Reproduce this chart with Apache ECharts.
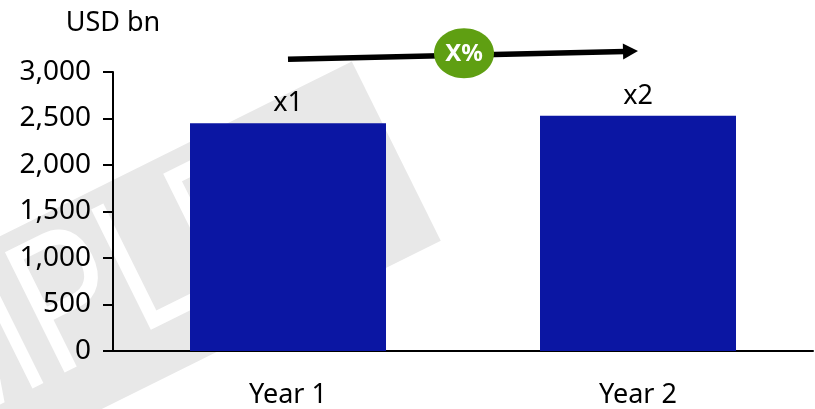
<!DOCTYPE html>
<html>
<head>
<meta charset="utf-8">
<script src="https://cdn.jsdelivr.net/npm/echarts@6/dist/echarts.min.js"></script>
<style>
  html, body { margin: 0; padding: 0; background: #fff; }
  #chart { width: 815px; height: 409px; }
</style>
</head>
<body>
<div id="chart"></div>
<script>
// Chart content
const categories = ['Year 1', 'Year 2'];
const values = [2450, 2530];
const barLabels = ['x1', 'x2'];
const unitLabel = 'USD bn';
const growthLabel = 'X%';
const watermarkText = 'SAMPLE';

// Value axis range
const Y_MIN = 0;
const Y_MAX = 3000;
const Y_STEP = 500;

// Growth arrow levels (value-axis units, above the plot area)
const ARROW_START_LEVEL = 3136;
const ARROW_END_LEVEL = 3225;

const FONT = '"Noto Sans", "Open Sans", sans-serif';
const BAR_COLOR = '#0b16a3';
const BADGE_COLOR = '#5f9f12';

const chart = echarts.init(document.getElementById('chart'), null, { renderer: 'canvas' });

chart.setOption({
  animation: false,
  backgroundColor: '#ffffff',
  grid: { left: 113, right: 2, top: 72, bottom: 57, containLabel: false },
  xAxis: {
    type: 'category',
    data: categories,
    axisLine: { show: true, lineStyle: { color: '#000', width: 2 } },
    axisTick: { show: false },
    axisLabel: { color: '#000', fontFamily: FONT, fontSize: 27, margin: 31 },
    splitLine: { show: false }
  },
  yAxis: {
    type: 'value',
    min: Y_MIN,
    max: Y_MAX,
    interval: Y_STEP,
    name: unitLabel,
    nameLocation: 'end',
    nameGap: 35,
    nameTextStyle: { color: '#000', fontFamily: FONT, fontSize: 27, align: 'center' },
    axisLine: { show: true, lineStyle: { color: '#000', width: 2 } },
    axisTick: { show: true, inside: false, length: 10, lineStyle: { color: '#000', width: 2 } },
    axisLabel: {
      color: '#000', fontFamily: FONT, fontSize: 28, margin: 22,
      formatter: v => v.toLocaleString('en-US')
    },
    splitLine: { show: false }
  },
  series: [{
    type: 'bar',
    data: values,
    barWidth: '56%',
    itemStyle: { color: BAR_COLOR },
    label: {
      show: true,
      position: 'top',
      distance: 6,
      color: '#000',
      fontFamily: FONT,
      fontSize: 27,
      formatter: p => barLabels[p.dataIndex]
    },
    z: 2
  }]
});

// Growth arrow between the two categories, plus the background watermark band
function drawAnnotations() {
  const p0 = chart.convertToPixel({ xAxisIndex: 0, yAxisIndex: 0 }, [categories[0], ARROW_START_LEVEL]);
  const p1 = chart.convertToPixel({ xAxisIndex: 0, yAxisIndex: 0 }, [categories[1], ARROW_END_LEVEL]);
  const dx = p1[0] - p0[0], dy = p1[1] - p0[1];
  const len = Math.sqrt(dx * dx + dy * dy);
  const ux = dx / len, uy = dy / len;
  const nx = -uy, ny = ux;
  const headLen = 15, headHalf = 8;
  const bx = p1[0] - ux * headLen, by = p1[1] - uy * headLen;
  // badge sits on the middle of the arrow
  const badgeX = p0[0] + dx * 0.5 + 1;
  const badgeY = p0[1] + dy * 0.5 - 2;

  const angle = 26.4 * Math.PI / 180;

  chart.setOption({
    graphic: [
      {
        type: 'group',
        x: 152, y: 345,
        rotation: angle,
        silent: true,
        z: -10,
        children: [
          { type: 'rect', z: -10, shape: { x: -900, y: -165, width: 1205, height: 200 }, style: { fill: '#e8e8e8' } },
          {
            type: 'text', z: -9, x: -415, y: -68, scaleX: 0.74,
            style: {
              text: watermarkText, fill: '#ffffff',
              font: '195px "Liberation Sans", Arial, sans-serif',
              align: 'left', verticalAlign: 'middle'
            }
          }
        ]
      },
      {
        type: 'line', z: 20, silent: true,
        shape: { x1: p0[0], y1: p0[1], x2: bx + ux * 2, y2: by + uy * 2 },
        style: { stroke: '#000', lineWidth: 5.5 }
      },
      {
        type: 'polygon', z: 20, silent: true,
        shape: { points: [[p1[0], p1[1]], [bx + nx * headHalf, by + ny * headHalf], [bx - nx * headHalf, by - ny * headHalf]] },
        style: { fill: '#000' }
      },
      {
        type: 'ellipse', z: 21, silent: true,
        shape: { cx: badgeX, cy: badgeY, rx: 30, ry: 25 },
        style: { fill: BADGE_COLOR }
      },
      {
        type: 'text', z: 22, silent: true,
        x: badgeX, y: badgeY + 1,
        style: {
          text: growthLabel, fill: '#fff',
          font: 'bold 24px "Noto Sans", "Open Sans", sans-serif',
          align: 'center', verticalAlign: 'middle'
        }
      }
    ]
  });
}
drawAnnotations();
</script>
</body>
</html>
